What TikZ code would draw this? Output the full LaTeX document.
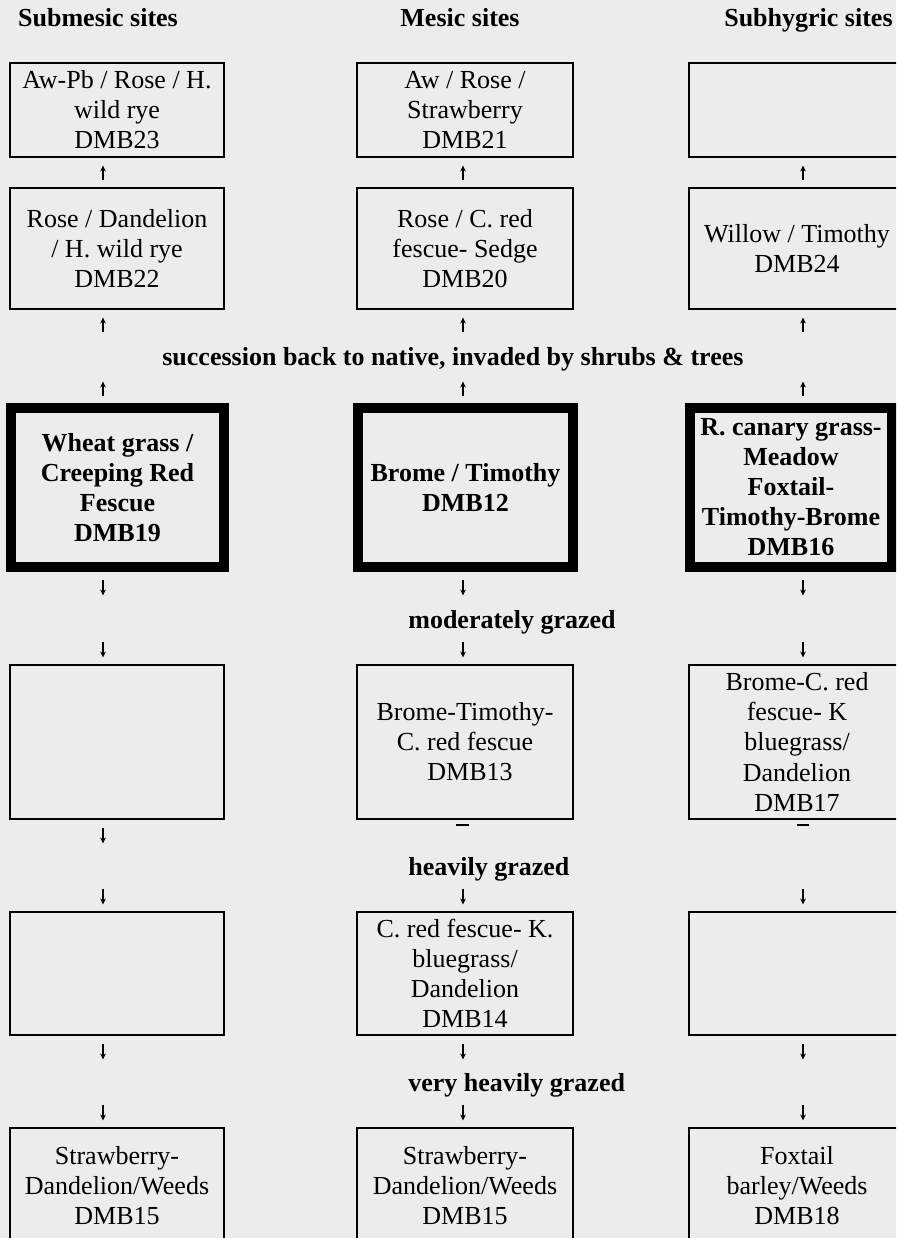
\documentclass[tikz,border=0pt]{standalone}
\usepackage{fontspec}
\setmainfont{Liberation Serif}
\usetikzlibrary{arrows.meta}
\definecolor{paper}{RGB}{236,236,236}
\tikzset{
  plotbox/.style={draw=black, line width=0.04cm, fill=paper, align=center, inner sep=0pt, font=\fontsize{14.8}{17.1}\selectfont},
  plotheavy/.style={draw=black, line width=0.2cm, fill=paper, align=center, inner sep=0pt, font=\fontsize{14.8}{17.1}\selectfont\bfseries},
  sitehead/.style={anchor=base, inner sep=0pt, font=\fontsize{14.8}{17}\selectfont\bfseries},
  stagelabel/.style={anchor=base west, inner sep=0pt, font=\fontsize{14.8}{17}\selectfont\bfseries},
  upmark/.style={-{Stealth[length=3.4pt,width=3.2pt]}, line width=0.6pt},
  dashmark/.style={line width=0.7pt},
}

\begin{document}
\begin{tikzpicture}
\useasboundingbox (0,0) rectangle (17.92,24.76);
\fill[paper] (0,0) rectangle (17.92,24.76);
\clip (0,0) rectangle (17.92,24.76);
% column heads
\node[sitehead] (headsub) at (1.96,24.22) {Submesic sites};
\node[sitehead] (headmes) at (9.20,24.22) {Mesic sites};
\node[sitehead, anchor=base east] (headhyg) at (17.86,24.22) {Subhygric sites};
% native stages
\node[plotbox, minimum width=4.28cm, minimum height=1.88cm] (sub23) at (2.34,22.56) {Aw-Pb / Rose / H.\\wild rye\\DMB23};
\node[plotbox, minimum width=4.32cm, minimum height=1.88cm] (mes21) at (9.30,22.56) {Aw / Rose /\\Strawberry\\DMB21};
\node[plotbox, minimum width=4.32cm, minimum height=1.88cm] (hygtop) at (15.94,22.56) {};
\node[plotbox, minimum width=4.28cm, minimum height=2.42cm] (sub22) at (2.34,19.79) {Rose / Dandelion\\/ H. wild rye\\DMB22};
\node[plotbox, minimum width=4.32cm, minimum height=2.42cm] (mes20) at (9.30,19.79) {Rose / C. red\\fescue- Sedge\\DMB20};
\node[plotbox, minimum width=4.32cm, minimum height=2.42cm] (hyg24) at (15.94,19.79) {Willow / Timothy\\DMB24};
\node[stagelabel] (succession) at (3.24,17.44) {succession back to native, invaded by shrubs \& trees};
% seeded stands
\node[plotheavy, minimum width=4.26cm, minimum height=3.18cm] (sub19) at (2.35,15.01) {Wheat grass /\\Creeping Red\\Fescue\\DMB19};
\node[plotheavy, minimum width=4.30cm, minimum height=3.18cm] (mes12) at (9.31,15.01) {Brome / Timothy\\DMB12};
\node[plotheavy, minimum width=4.04cm, minimum height=3.18cm] (hyg16) at (15.82,15.01) {R. canary grass-\\Meadow\\Foxtail-\\Timothy-Brome\\DMB16};
% grazed stages
\node[stagelabel] (moderate) at (8.16,12.18) {moderately grazed};
\node[plotbox, minimum width=4.28cm, minimum height=3.08cm] (submod) at (2.34,9.92) {};
\node[plotbox, minimum width=4.32cm, minimum height=3.08cm] (mes13) at (9.30,9.92) {Brome-Timothy-\\C. red fescue\\\hspace*{0.2cm}DMB13};
\node[plotbox, minimum width=4.32cm, minimum height=3.08cm] (hyg17) at (15.94,9.92) {Brome-C. red\\fescue- K\\bluegrass/\\Dandelion\\DMB17};
\node[stagelabel] (heavy) at (8.16,7.24) {heavily grazed};
\node[plotbox, minimum width=4.28cm, minimum height=2.46cm] (subheavy) at (2.34,5.29) {};
\node[plotbox, minimum width=4.32cm, minimum height=2.46cm] (mes14) at (9.30,5.29) {C. red fescue- K.\\bluegrass/\\Dandelion\\DMB14};
\node[plotbox, minimum width=4.32cm, minimum height=2.46cm] (hygheavy) at (15.94,5.29) {};
\node[stagelabel] (veryheavy) at (8.16,2.92) {very heavily grazed};
\node[plotbox, minimum width=4.28cm, minimum height=2.32cm] (sub15) at (2.34,1.04) {Strawberry-\\Dandelion/Weeds\\DMB15};
\node[plotbox, minimum width=4.32cm, minimum height=2.32cm] (mes15) at (9.30,1.04) {Strawberry-\\Dandelion/Weeds\\DMB15};
\node[plotbox, minimum width=4.32cm, minimum height=2.32cm] (hyg18) at (15.94,1.04) {Foxtail\\barley/Weeds\\DMB18};
% arrows, submesic
\draw[upmark] (2.06,21.15) -- (2.06,21.45);
\draw[upmark] (2.06,18.11) -- (2.06,18.41);
\draw[upmark] (2.06,16.83) -- (2.06,17.13);
\draw[upmark] (2.06,13.15) -- (2.06,12.85);
\draw[upmark] (2.06,11.91) -- (2.06,11.61);
\draw[upmark] (2.06,8.19) -- (2.06,7.89);
\draw[upmark] (2.06,6.97) -- (2.06,6.67);
\draw[upmark] (2.06,3.87) -- (2.06,3.57);
\draw[upmark] (2.06,2.65) -- (2.06,2.35);
% arrows, mesic
\draw[upmark] (9.26,21.15) -- (9.26,21.45);
\draw[upmark] (9.26,18.11) -- (9.26,18.41);
\draw[upmark] (9.26,16.83) -- (9.26,17.13);
\draw[upmark] (9.26,13.15) -- (9.26,12.85);
\draw[upmark] (9.26,11.91) -- (9.26,11.61);
\draw[dashmark] (9.12,8.26) -- (9.38,8.26);
\draw[upmark] (9.26,6.97) -- (9.26,6.67);
\draw[upmark] (9.26,3.87) -- (9.26,3.57);
\draw[upmark] (9.26,2.65) -- (9.26,2.35);
% arrows, subhygric
\draw[upmark] (16.06,21.15) -- (16.06,21.45);
\draw[upmark] (16.06,18.11) -- (16.06,18.41);
\draw[upmark] (16.06,16.83) -- (16.06,17.13);
\draw[upmark] (16.06,13.15) -- (16.06,12.85);
\draw[upmark] (16.06,11.91) -- (16.06,11.61);
\draw[dashmark] (15.94,8.26) -- (16.18,8.26);
\draw[upmark] (16.06,6.97) -- (16.06,6.67);
\draw[upmark] (16.06,3.87) -- (16.06,3.57);
\draw[upmark] (16.06,2.65) -- (16.06,2.35);
\end{tikzpicture}
\end{document}
